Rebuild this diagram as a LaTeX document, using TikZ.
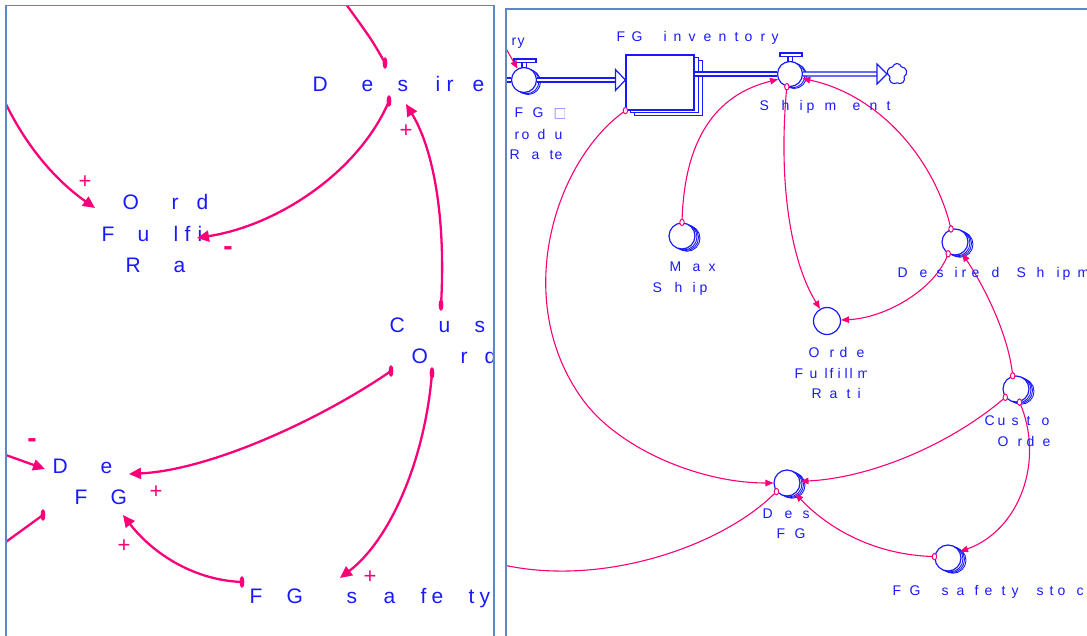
\documentclass[tikz,border=0pt]{standalone}
\usepackage{fontspec}
\setmainfont{Liberation Sans}
\newfontfamily\symfont{DejaVu Sans}
\usetikzlibrary{arrows.meta,shapes.symbols,calc}
\definecolor{vblue}{RGB}{25,25,255}
\definecolor{vpink}{RGB}{250,0,120}
\definecolor{vframe}{RGB}{95,135,195}
\newcommand{\ltrs}[1]{\foreach \lc/\lx in {#1}{\makebox[0pt][l]{\hspace*{\lx pt}\lc}}}
\newcommand{\auxv}[3]{%
  \foreach \oo in {5,3.5,2}{\draw[vblue,line width=0.9pt] (#2+\oo,#3+0.45*\oo) circle[radius=13pt];}
  \node[auxc] (#1) at (#2,#3) {};}
\newcommand{\valve}[3]{%
  \foreach \oo in {4,2.5}{\draw[vblue,line width=0.9pt] (#2+\oo,#3+0.5*\oo) circle[radius=12.5pt];}
  \node[valvec] (#1) at (#2,#3) {};
  \draw[vblue,line width=1.1pt,fill=white] (#2-2,#3-12.5) rectangle (#2+2.5,#3-17.5);
  \draw[vblue,line width=1.1pt,fill=white] (#2-10,#3-17.5) rectangle (#2+12,#3-21);}
\begin{document}
\begin{tikzpicture}[x=1pt,y=-1pt,
  ltxt/.style={text=vblue,font=\fontsize{21}{24}\selectfont,anchor=base west,inner sep=0pt},
  rtxt/.style={text=vblue,font=\fontsize{14}{16}\selectfont,anchor=base west,inner sep=0pt},
  polsign/.style={text=vpink,font=\fontsize{22}{24}\selectfont,inner sep=0pt},
  negsign/.style={text=vpink,font=\fontsize{28}{30}\selectfont\bfseries,inner sep=0pt},
  lconn/.style={draw=vpink,line width=2.3pt,-{Triangle[length=12pt,width=11pt]}},
  lplain/.style={draw=vpink,line width=2.3pt},
  rconn/.style={draw=vpink,line width=1.1pt,-{Triangle[length=8pt,width=6.5pt]}},
  rplain/.style={draw=vpink,line width=1.1pt},
  rtail/.style={draw=vpink,line width=1pt,fill=white},
  auxc/.style={circle,draw=vblue,line width=1.2pt,fill=white,minimum size=26pt,inner sep=0pt},
  valvec/.style={circle,draw=vblue,line width=1.2pt,fill=white,minimum size=25pt,inner sep=0pt},
  stockbox/.style={rectangle,draw=vblue,line width=1.2pt,fill=white,minimum width=68pt,minimum height=55pt,inner sep=0pt},
  flowpipe/.style={draw=vblue,line width=1.3pt,double=white,double distance=2.6pt},
  flowtip/.style={draw=vblue,line width=1.2pt,fill=white},
  panelframe/.style={draw=vframe,line width=1.6pt}
]
\useasboundingbox (0,0) rectangle (1087,636);

% ---------------- left panel ----------------
\begin{scope}
\clip (6,5.5) rectangle (494,636);
\node[ltxt] (lds1) at (312,92) {\ltrs{D/0,e/49,s/85,i/123,r/134,e/160}};
\node[ltxt] (lofr1) at (122,210) {\ltrs{O/0,r/49,d/74}};
\node[ltxt] (lofr2) at (101,242) {\ltrs{F/0,u/36,l/72,f/83,i/96}};
\node[ltxt] (lofr3) at (125,273) {\ltrs{R/0,a/48}};
\node[ltxt] (lco1) at (389,332) {\ltrs{C/0,u/49,s/85}};
\node[ltxt] (lco2) at (411,363) {\ltrs{O/0,r/49,d/73}};
\node[ltxt] (ldfg1) at (52,473) {\ltrs{D/0,e/48}};
\node[ltxt] (ldfg2) at (74,504) {\ltrs{F/0,G/36}};
\node[ltxt] (lss1) at (249,603) {\ltrs{F/0,G/37,s/97,a/134,f/171,e/182,t/219,y/230}};

\coordinate (lds-t1) at (385,63);
\coordinate (ltop) at (343,0);
\coordinate (lds-t2) at (389,101);
\coordinate (lofr-h2) at (197,238);
\coordinate (lco-t1) at (441,305);
\coordinate (lds-h) at (406,104);
\coordinate (ledge1) at (3,98);
\coordinate (lofr-h1) at (95,208);
\coordinate (lco-t2) at (391,371);
\coordinate (ldfg-h1) at (129,474);
\coordinate (lco-t3) at (432,373);
\coordinate (lss-h) at (340,578);
\coordinate (lss-t) at (242,582);
\coordinate (ldfg-h2) at (123,515);
\coordinate (ledge2) at (3,454);
\coordinate (ldfg-h3) at (45,469);
\coordinate (ldfg-t) at (43,515);
\coordinate (ledge3) at (3,544);

\draw[lplain] (lds-t1) .. controls (372,40) .. (ltop);
\draw[lconn] (lds-t2) .. controls (360,170) and (280,225) .. (lofr-h2);
\draw[lconn] (lco-t1) .. controls (446,220) and (434,150) .. (lds-h);
\draw[lconn] (ledge1) .. controls (25,145) and (55,180) .. (lofr-h1);
\draw[lconn] (lco-t2) .. controls (320,420) and (210,470) .. (ldfg-h1);
\draw[lconn] (lco-t3) .. controls (425,460) and (390,540) .. (lss-h);
\draw[lconn] (lss-t) .. controls (190,580) and (150,550) .. (ldfg-h2);
\draw[lconn] (ledge2) -- (ldfg-h3);
\draw[lplain] (ldfg-t) -- (ledge3);
\foreach \tp in {lds-t1,lds-t2,lco-t1,lco-t2,lco-t3,lss-t,ldfg-t}
  \fill[vpink] (\tp) ellipse[x radius=2.3pt,y radius=6pt];

\node[polsign] (s1) at (85,182) {+};
\node[negsign] (s2) at (228,251) {-};
\node[polsign] (s3) at (406,131) {+};
\node[polsign] (s4) at (156,492) {+};
\node[polsign] (s5) at (370,577) {+};
\node[polsign] (s6) at (124,546) {+};
\node[negsign] (s7) at (32,443) {-};
\end{scope}
\draw[panelframe] (6,5.5) rectangle (494,645);

% ---------------- right panel ----------------
\begin{scope}
\clip (506,9) rectangle (1087,636);
% valves, stock, cloud
\valve{v1}{524}{80}
\valve{v2}{790}{74}
\foreach \oo in {8,4}
  \draw[vblue,line width=1pt,fill=white] (626+\oo,55+0.75*\oo) rectangle (694+\oo,110+0.75*\oo);
\node[stockbox] (stock) at (660,82.5) {};
\node[cloud,draw=vblue,line width=1.1pt,cloud puffs=5,aspect=1,minimum width=20pt,minimum height=21pt,inner sep=0pt] (cld) at (897,74) {};

% pipes
\coordinate (pin) at (500,80);
\draw[flowpipe] (pin) -- (v1.west);
\coordinate (stin) at (stock.west |- v1);
\draw[flowpipe] (v1.east) -- ($(stin)+(-10,0)$);
\draw[flowtip] (stin) -- ++(-10,-10.5) -- ++(0,21) -- cycle;
\coordinate (stout) at (stock.east |- v2);
\draw[flowpipe] (stout) -- (v2.west);
\coordinate (cin) at (cld.west);
\draw[flowpipe] (v2.east) -- ($(cin)+(-10,0)$);
\draw[flowtip] (cin) -- ++(-10,-10) -- ++(0,20) -- cycle;

% auxiliaries
\auxv{ms}{682}{236}
\auxv{ds}{955}{242}
\auxv{co}{1016}{389}
\auxv{dfg}{787}{483}
\auxv{fg}{948}{558}
\node[auxc,minimum size=27pt] (ofr) at (827,321) {};

% connectors
\coordinate (rin) at (500,38);
\draw[rconn] (rin) -- (v1.120);
\draw[rconn] (ms.90) .. controls (684,140) and (715,95) .. (v2.204);
\draw[rconn] (v2.256) .. controls (778,180) and (790,260) .. (ofr.120);
\draw[rconn] (ds.107) .. controls (935,160) and (880,95) .. (v2.340);
\draw[rconn] (ds.240) .. controls (935,290) and (885,318) .. (ofr.4);
\draw[rconn] (co.104) .. controls (1008,330) and (980,280) .. (ds.302);
\draw[rconn] (co.218) .. controls (950,445) and (870,478) .. (dfg.7);
\draw[rconn] (co.285) .. controls (1045,460) and (1020,530) .. (fg.28);
\draw[rconn] (fg.174) .. controls (870,555) and (825,525) .. (dfg.308);
\draw[rconn] (stock.south west) .. controls (555,160) and (510,300) .. (583,400) .. controls (619,449) and (700,483) .. (dfg.180);
\coordinate (redge) at (495,563);
\draw[rplain] (dfg.219) .. controls (725,545) and (600,590) .. (redge);
\foreach \tp in {ms.90,v2.256,ds.107,ds.240,co.104,co.218,co.285,fg.174,stock.south west,dfg.219}
  \draw[rtail] (\tp) ellipse[x radius=2.2pt,y radius=3.2pt];

% labels
\node[rtxt] (rry) at (511,46) {\ltrs{r/0,y/6}};
\node[rtxt] (rinv) at (616,42) {\ltrs{F/0,G/15,i/47,n/57,v/72,e/87,n/102,t/118,o/128,r/144,y/155}};
\node[rtxt] (rship) at (759,111) {\ltrs{S/0,h/22,i/40,p/47,m/65,e/93,n/110,t/127}};
\begin{scope}
\clip (506,95) rectangle (564,170);
\node[rtxt] (rpr1) at (514,118) {\ltrs{F/0,G/18,{\symfont\color{vblue!55}□}/39}};
\node[rtxt] (rpr2) at (514,140) {\ltrs{r/0,o/7,d/23,u/40}};
\node[rtxt] (rpr3) at (509,160) {\ltrs{R/0,a/22,t/40,e/45}};
\end{scope}
\node[rtxt] (rms1) at (669,272) {\ltrs{M/0,a/23,x/39}};
\node[rtxt] (rms2) at (652,293) {\ltrs{S/0,h/22,i/40,p/47}};
\node[rtxt] (rds1) at (897,278) {\ltrs{D/0,e/22,s/39,i/57,r/64,e/74,d/94,S/119,h/139,i/159,p/165,m/180}};
\begin{scope}
\clip (790,330) rectangle (866,410);
\node[rtxt] (rofr1) at (808,357) {\ltrs{O/0,r/21,d/31,e/48}};
\node[rtxt] (rofr2) at (794,378) {\ltrs{F/0,u/15,l/30,f/35,i/43,l/50,l/55,m/63}};
\node[rtxt] (rofr3) at (811,398) {\ltrs{R/0,a/18,t/35,i/46}};
\end{scope}
\begin{scope}
\clip (980,405) rectangle (1051,452);
\node[rtxt] (rco1) at (984,425) {\ltrs{C/0,u/13,s/27,t/42,o/57}};
\node[rtxt] (rco2) at (997,446) {\ltrs{O/0,r/20,d/29,e/45}};
\end{scope}
\node[rtxt] (rdfg1) at (762,518) {\ltrs{D/0,e/22,s/40}};
\node[rtxt] (rdfg2) at (776,538) {\ltrs{F/0,G/18}};
\node[rtxt] (rss1) at (892,595) {\ltrs{F/0,G/17,s/49,a/64,f/82,e/92,t/109,y/119,s/144,t/157,o/165,c/184}};
\end{scope}
\draw[panelframe] (506,9) rectangle (1095,645);
\end{tikzpicture}
\end{document}
